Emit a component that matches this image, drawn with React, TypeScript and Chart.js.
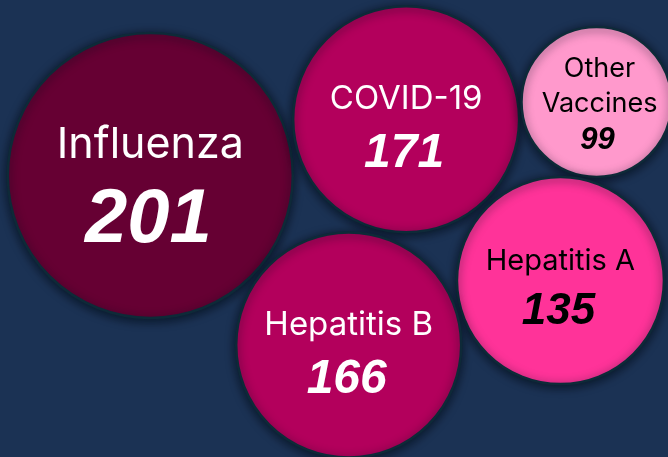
import React, { useEffect, useRef } from "react";
import { Chart, registerables } from "chart.js";

Chart.register(...registerables);

// ---- data ----
const categories = ["Influenza", "COVID-19", "Other Vaccines", "Hepatitis A", "Hepatitis B"];
const labelLines = [["Influenza"], ["COVID-19"], ["Other", "Vaccines"], ["Hepatitis A"], ["Hepatitis B"]];
const counts = [201, 171, 99, 135, 166];
// packed-bubble layout (axis units 0..100)
const xPos = [22.5, 60.8, 89.3, 83.9, 52.2];
const yPos = [61.6, 73.9, 77.7, 38.6, 24.5];
const radii = [142.5, 113, 75, 103.5, 112.5];

// ---- styles ----
const fillColors = ["#660033", "#B3005C", "#FF99CC", "#FF3399", "#B3005C"];
const textColors = ["#FFFFFF", "#FFFFFF", "#000000", "#000000", "#FFFFFF"];
const labelFontSizes = [43, 33, 27, 29, 33];
const valueFontSizes = [76, 48, 31, 44, 48];
const BG = "#1B3254";

const shadowPlugin = {
  id: "bubbleShadow",
  beforeDatasetsDraw(chart: any) {
    const ctx = chart.ctx;
    ctx.save();
    ctx.shadowColor = "rgba(5,15,25,0.75)";
    ctx.shadowBlur = 10;
    ctx.shadowOffsetX = 0;
    ctx.shadowOffsetY = 2;
  },
  afterDatasetsDraw(chart: any) {
    chart.ctx.restore();
  },
};

const textPlugin = {
  id: "bubbleText",
  afterDraw(chart: any) {
    const ctx = chart.ctx;
    const meta = chart.getDatasetMeta(0);
    ctx.save();
    ctx.shadowColor = "transparent";
    ctx.textAlign = "center";
    ctx.textBaseline = "alphabetic";
    meta.data.forEach((el: any, i: number) => {
      const L = labelFontSizes[i];
      const V = valueFontSizes[i];
      const lines = labelLines[i];
      const baselines: number[] = [];
      let b = 0;
      lines.forEach((_, k) => {
        if (k > 0) b += L * 1.3;
        baselines.push(b);
      });
      b += lines.length > 1 ? V * 0.8 + 12 : V * 0.95 + 12;
      const valueBase = b;
      const capTop = -0.727 * L;
      const blockCenter = (capTop + valueBase) / 2;
      const cy = el.y + radii[i] * 0.06 - (lines.length > 1 ? 3 : 0);
      const shift = cy - blockCenter;
      const cx = el.x + (lines.length > 1 ? 3 : 0);
      ctx.fillStyle = textColors[i];
      ctx.font = `400 ${L}px Inter, "Noto Sans", sans-serif`;
      lines.forEach((t, k) => ctx.fillText(t, cx, baselines[k] + shift));
      ctx.font = `italic 700 ${V}px "Liberation Sans", Arial, sans-serif`;
      ctx.fillText(String(counts[i]), cx - 2, valueBase + shift);
    });
    ctx.restore();
  },
};

export default function App() {
  const ref = useRef<HTMLCanvasElement>(null);
  useEffect(() => {
    document.body.style.margin = "0";
    document.body.style.background = BG;
    const chart = new Chart(ref.current!, {
      type: "bubble",
      data: {
        datasets: [
          {
            label: "Vaccines",
            data: categories.map((_, i) => ({ x: xPos[i], y: yPos[i], r: radii[i] })),
            backgroundColor: fillColors,
            borderColor: "#0E2A38",
            borderWidth: 2.5,
            hoverRadius: 0,
            clip: false as any,
          },
        ],
      },
      options: {
        responsive: false,
        animation: false,
        events: [],
        layout: { padding: 0, autoPadding: false },
        plugins: { legend: { display: false }, tooltip: { enabled: false } },
        scales: {
          x: { type: "linear", min: 0, max: 100, display: false },
          y: { type: "linear", min: 0, max: 100, display: false },
        },
      },
      plugins: [shadowPlugin, textPlugin],
    });
    return () => chart.destroy();
  }, []);
  return (
    <div style={{ width: 668, height: 457, background: BG, position: "relative", overflow: "hidden" }}>
      <canvas ref={ref} width={668} height={457} style={{ display: "block" }} />
    </div>
  );
}
